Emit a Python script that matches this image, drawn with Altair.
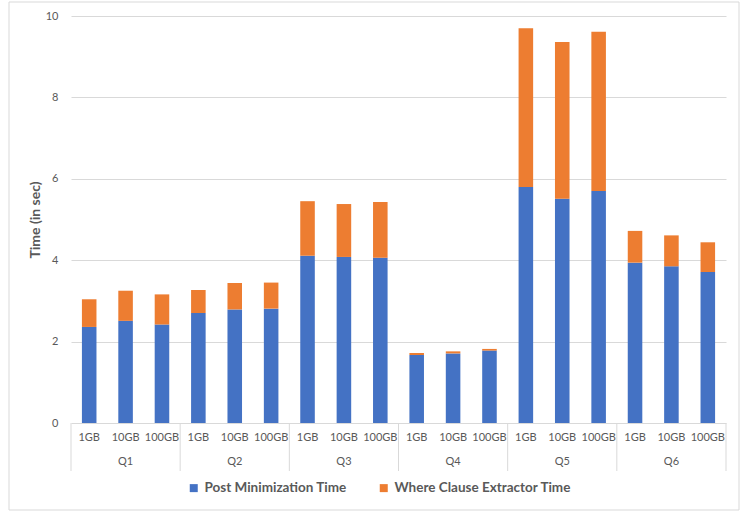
import altair as alt
import pandas as pd

# Query groups and the scale factors measured within each group
queries = ["Q1", "Q2", "Q3", "Q4", "Q5", "Q6"]
scale_factors = ["1GB", "10GB", "100GB"]

# Seconds per run, ordered Q1 1GB, Q1 10GB, Q1 100GB, Q2 1GB, ...
post_minimization = [2.36, 2.51, 2.42, 2.70, 2.79, 2.81, 4.11, 4.08, 4.06,
                     1.67, 1.71, 1.78, 5.80, 5.51, 5.70, 3.94, 3.85, 3.71]
where_clause = [0.68, 0.74, 0.74, 0.57, 0.65, 0.64, 1.34, 1.30, 1.37,
                0.05, 0.05, 0.04, 3.90, 3.85, 3.91, 0.78, 0.76, 0.73]

series_names = ["Post Minimization Time", "Where Clause Extractor Time"]
series_colors = ["#4472C4", "#ED7D31"]
y_ticks = [0, 2, 4, 6, 8, 10]

rows = []
keys = []
for qi, q in enumerate(queries):
    for si, s in enumerate(scale_factors):
        i = qi * len(scale_factors) + si
        key = f"{q}|{s}"
        keys.append(key)
        rows.append({"key": key, "size": s, "series": series_names[0], "time": post_minimization[i], "order": 0})
        rows.append({"key": key, "size": s, "series": series_names[1], "time": where_clause[i], "order": 1})
bars_df = pd.DataFrame(rows)

W, H = 655, 407
FONT = "Lato"
GRAY = "#595959"
GRID = "#d9d9d9"

x_scale = alt.Scale(domain=keys, paddingInner=0, paddingOuter=0)

bars = alt.Chart(bars_df).mark_bar(width={"band": 0.4}).encode(
    x=alt.X(
        "key:N",
        scale=x_scale,
        axis=alt.Axis(
            title=None,
            labels=False,
            ticks=False,
            domainColor=GRID,
            grid=False,
        ),
    ),
    y=alt.Y(
        "time:Q",
        stack="zero",
        scale=alt.Scale(domain=[0, 10]),
        axis=alt.Axis(
            values=y_ticks,
            title="Time (in sec)",
            titleFont=FONT,
            titleFontSize=14,
            titleFontWeight="bold",
            titleColor=GRAY,
            titlePadding=3,
            labelFont=FONT,
            labelFontSize=11,
            labelColor=GRAY,
            labelPadding=13,
            ticks=False,
            domain=False,
            gridColor=GRID,
            gridWidth=1,
        ),
    ),
    color=alt.Color(
        "series:N",
        scale=alt.Scale(domain=series_names, range=series_colors),
        legend=alt.Legend(
            title=None,
            orient="none",
            legendX=116,
            legendY=465,
            direction="horizontal",
            symbolType="square",
            symbolSize=64,
            symbolStrokeWidth=0,
            labelFont=FONT,
            labelFontSize=13.5,
            labelFontWeight="bold",
            labelColor=GRAY,
            labelOffset=4,
            labelLimit=400,
            columnPadding=30,
            padding=0,
        ),
    ),
    order=alt.Order("order:Q"),
)

# Scale-factor labels under each bar
size_df = pd.DataFrame({"key": keys, "size": [k.split("|")[1] for k in keys]})
size_labels = alt.Chart(size_df).mark_text(
    font=FONT, fontSize=11, color=GRAY, baseline="middle", align="center"
).encode(
    x=alt.X("key:N", scale=x_scale, axis=None),
    y=alt.value(H + 15),
    text="size:N",
)

# Vertical separators between query groups under the axis
sep_df = pd.DataFrame({"key": [f"{q}|{scale_factors[0]}" for q in queries]})
separators = alt.Chart(sep_df).mark_rule(color=GRID, strokeWidth=1).encode(
    x=alt.X("key:N", scale=x_scale, bandPosition=0, axis=None),
    y=alt.value(H),
    y2=alt.value(H + 48),
)
end_df = pd.DataFrame({"key": [f"{queries[-1]}|{scale_factors[-1]}"]})
end_sep = alt.Chart(end_df).mark_rule(color=GRID, strokeWidth=1).encode(
    x=alt.X("key:N", scale=x_scale, bandPosition=1, axis=None),
    y=alt.value(H),
    y2=alt.value(H + 48),
)

# Query group labels centred under each group
grp_df = pd.DataFrame({"key": [f"{q}|{scale_factors[1]}" for q in queries], "q": queries})
group_labels = alt.Chart(grp_df).mark_text(
    font=FONT, fontSize=11, color=GRAY, baseline="middle", align="center"
).encode(
    x=alt.X("key:N", scale=x_scale, axis=None),
    y=alt.value(H + 39),
    text="q:N",
)

# Light frame around the whole figure
frame = alt.Chart(pd.DataFrame({"f": [0]})).mark_rect(
    fillOpacity=0, stroke=GRID, strokeWidth=1
).encode(
    x=alt.value(-62), x2=alt.value(668), y=alt.value(-14), y2=alt.value(494)
)

chart = alt.layer(frame, bars, size_labels, separators, end_sep, group_labels).properties(
    width=W,
    height=H,
    autosize=alt.AutoSizeParams(type="none"),
    padding={"left": 71, "top": 16, "right": 16, "bottom": 89},
    background="white",
).configure_view(stroke="transparent")

chart.save("out.html", embed_options={"renderer": "svg", "actions": False})
